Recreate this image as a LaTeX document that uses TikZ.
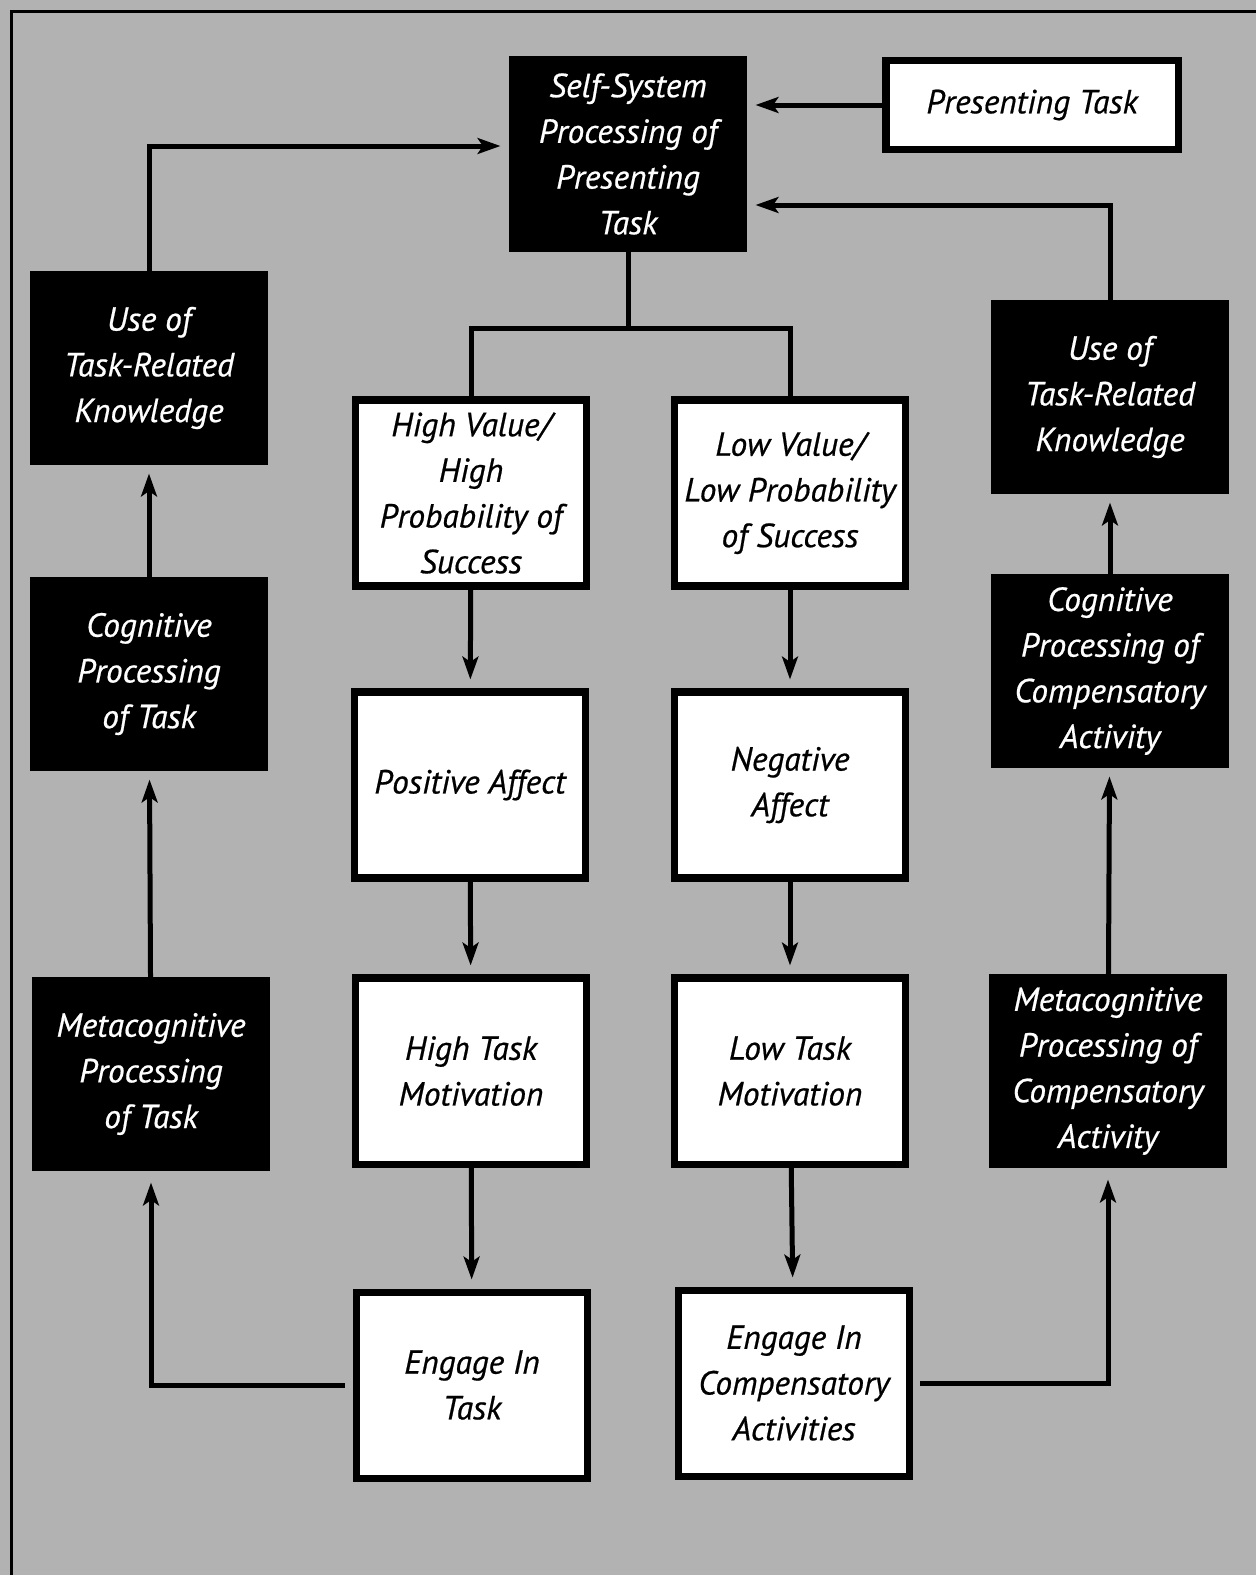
\documentclass[tikz,border=0pt]{standalone}
\usepackage{fontspec}
\setmainfont{PT Sans}
\newfontfamily\boxfont{PT Sans}[ItalicFeatures={FakeBold=0.6}]
\usetikzlibrary{arrows.meta}

\begin{document}
\begin{tikzpicture}[x=0.2mm,y=-0.2mm,>={Stealth[length=13pt,width=9pt,inset=3pt]},
		boxtext/.style={inner sep=0pt,align=center,line width=4pt,
			font=\boxfont\itshape\fontsize{19}{26}\selectfont},
		darkbox/.style={boxtext,draw=black,fill=black,text=white,
			minimum width=46.2mm,minimum height=37.2mm},
		whitebox/.style={boxtext,draw=black,fill=white,text=black,
			minimum width=46.2mm,minimum height=37.2mm},
		link/.style={line width=1mm},
		arrowlink/.style={link,->,shorten >=1.8mm}]
			\useasboundingbox (0,0) rectangle (1256,1575);
			\fill[black!30] (0,0) rectangle (1256,1575);
			\draw[line width=0.6mm] (11,1575) -- (11,11) -- (1256,11);
			
			% top row
			\node[darkbox,minimum width=46mm,minimum height=37.6mm] (self) at (628,154) {Self-System\\Processing of\\Presenting\\Task};
			\node[whitebox,minimum width=58.4mm,minimum height=17.8mm] (pres) at (1032,105) {Presenting Task};
			
			% left column
			\node[darkbox] (useL) at (149,368) {Use of\\Task-Related\\Knowledge};
			\node[darkbox] (cogL) at (149,674) {Cognitive\\Processing\\of Task};
			\node[darkbox] (metaL) at (151,1074) {Metacognitive\\Processing\\of Task};
			
			% middle columns
			\node[whitebox] (hv) at (471,493) {High Value/\\High\\Probability of\\Success};
			\node[whitebox] (lv) at (790,493) {Low Value/\\Low Probability\\of Success};
			\node[whitebox] (pa) at (470,785) {Positive Affect};
			\node[whitebox] (na) at (790,785) {Negative\\Affect};
			\node[whitebox] (htm) at (471,1071) {High Task\\Motivation};
			\node[whitebox] (ltm) at (790,1071) {Low Task\\Motivation};
			\node[whitebox] (eit) at (472,1385) {Engage In\\Task};
			\node[whitebox] (eca) at (794,1383) {Engage In\\Compensatory\\Activities};
			
			% right column
			\node[darkbox] (useR) at (1110,397) {Use of\\Task-Related\\Knowledge};
			\node[darkbox] (cogR) at (1110,671) {Cognitive\\Processing of\\Compensatory\\Activity};
			\node[darkbox] (metaR) at (1108,1071) {Metacognitive\\Processing of\\Compensatory\\Activity};
			
			% connectors
			\coordinate (split) at (628,328);
			\draw[link] (self.south) -- (split);
			\draw[link] (hv.north) |- (split) -| (lv.north);
			\draw[arrowlink] (pres.west) -- (pres.west -| self.east);
			\draw[arrowlink] (useL.north) |- ([yshift=0.16cm]self.west);
			\draw[arrowlink] (useR.north) |- ([yshift=-1.02cm]self.east);
			
			\draw[arrowlink] (hv) -- (pa);
			\draw[arrowlink] (pa) -- (htm);
			\draw[arrowlink] (htm) -- (eit);
			\draw[arrowlink] (lv) -- (na);
			\draw[arrowlink] (na) -- (ltm);
			\draw[arrowlink] (ltm) -- (eca);
			
			\draw[arrowlink,shorten <=1.6mm,shorten >=2.4mm] (eit.west) -| (metaL.south);
			\draw[arrowlink] (metaL) -- (cogL);
			\draw[arrowlink] (cogL) -- (useL);
			\draw[arrowlink,shorten <=1.4mm,shorten >=2.4mm] (eca.east) -| (metaR.south);
			\draw[arrowlink] (metaR) -- (cogR);
			\draw[arrowlink] (cogR) -- (useR);
		\end{tikzpicture}
\end{document}
